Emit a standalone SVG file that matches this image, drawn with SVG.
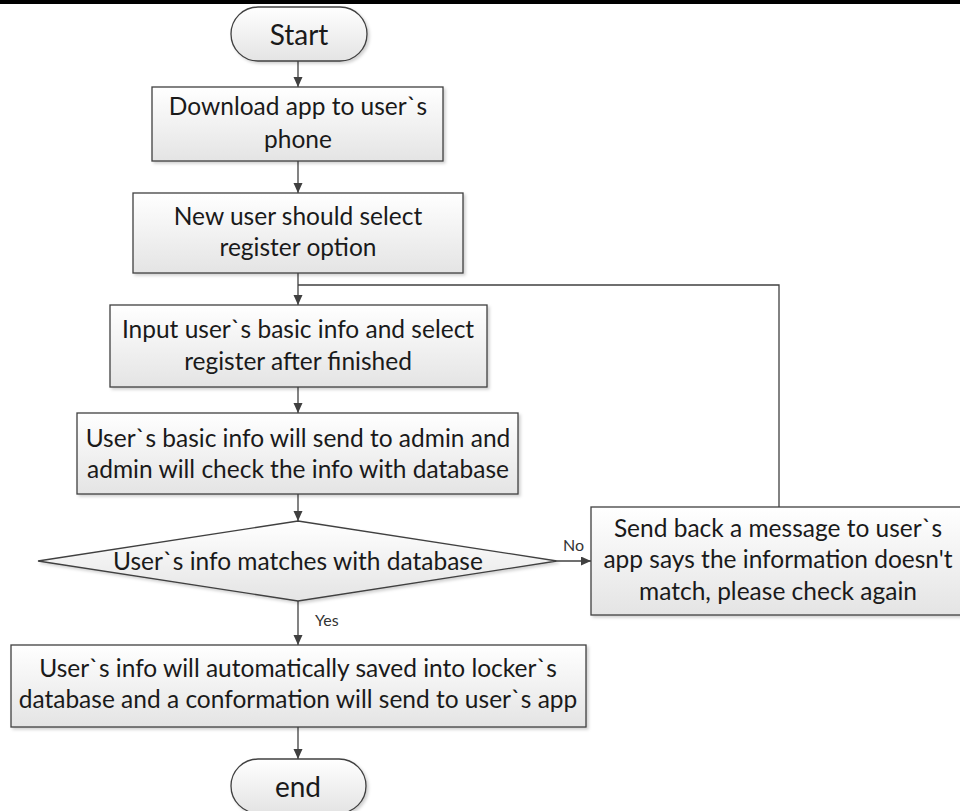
<svg xmlns="http://www.w3.org/2000/svg" width="960" height="811" viewBox="0 0 960 811">
<defs>
<linearGradient id="g" x1="0" y1="0" x2="0" y2="1">
<stop offset="0" stop-color="#ffffff"/>
<stop offset="1" stop-color="#e4e4e4"/>
</linearGradient>
<filter id="sh" x="-5%" y="-5%" width="115%" height="125%">
<feDropShadow dx="2" dy="2" stdDeviation="1.5" flood-color="#000" flood-opacity="0.18"/>
</filter>
<marker id="ah" markerUnits="userSpaceOnUse" markerWidth="12" markerHeight="10" refX="10" refY="4.5" orient="auto">
<path d="M0,0 L10,4.5 L0,9 z" fill="#404040"/>
</marker>
</defs>
<style>
.n{fill:url(#g);stroke:#404040;stroke-width:1.3;filter:url(#sh)}
.t{font-family:Lato,"Liberation Sans",sans-serif;font-size:24.5px;fill:#1a1a1a;text-anchor:middle}
.tt{font-family:Lato,"Liberation Sans",sans-serif;font-size:28px;fill:#1a1a1a;text-anchor:middle}
.s{font-family:Lato,"Liberation Sans",sans-serif;font-size:16px;fill:#333}
.c{fill:none;stroke:#404040;stroke-width:1.3}
</style>
<rect x="0" y="0" width="960" height="811" fill="#fff"/>
<rect x="0" y="0" width="960" height="4" fill="#000"/>
<g id="connectors">
<line class="c" x1="298" y1="61" x2="298" y2="87" marker-end="url(#ah)"/>
<line class="c" x1="298" y1="161" x2="298" y2="193" marker-end="url(#ah)"/>
<line class="c" x1="298" y1="273" x2="298" y2="305" marker-end="url(#ah)"/>
<line class="c" x1="298" y1="387" x2="298" y2="413" marker-end="url(#ah)"/>
<line class="c" x1="298" y1="494" x2="298" y2="521" marker-end="url(#ah)"/>
<line class="c" x1="298" y1="601" x2="298" y2="645" marker-end="url(#ah)"/>
<line class="c" x1="298" y1="727" x2="298" y2="759" marker-end="url(#ah)"/>
<line class="c" x1="557" y1="561" x2="591" y2="561" marker-end="url(#ah)"/>
<polyline class="c" points="779,507 779,285 298,285"/>
<text class="s" x="563" y="551">No</text>
<text class="s" x="315" y="626">Yes</text>
</g>
<g id="start">
<rect class="n" x="231" y="7" width="136" height="54" rx="27" ry="27"/>
<text class="tt" x="299" y="45">Start</text>
</g>
<g id="download">
<rect class="n" x="152" y="87" width="291" height="74"/>
<text class="t" x="298" y="115">Download app to user`s</text>
<text class="t" x="298" y="148">phone</text>
</g>
<g id="select-register">
<rect class="n" x="133" y="193" width="330" height="80"/>
<text class="t" x="298" y="225">New user should select</text>
<text class="t" x="298" y="256">register option</text>
</g>
<g id="input-info">
<rect class="n" x="110" y="305" width="377" height="82"/>
<text class="t" x="298" y="338">Input user`s basic info and select</text>
<text class="t" x="298" y="370">register after finished</text>
</g>
<g id="send-admin">
<rect class="n" x="77" y="413" width="441" height="81"/>
<text class="t" x="298" y="447">User`s basic info will send to admin and</text>
<text class="t" x="298" y="478">admin will check the info with database</text>
</g>
<g id="decision">
<polygon class="n" points="298,521 557,561 298,601 38,561"/>
<text class="t" x="298" y="570">User`s info matches with database</text>
</g>
<g id="send-back">
<rect class="n" x="591" y="507" width="375" height="108"/>
<text class="t" x="778" y="537">Send back a message to user`s</text>
<text class="t" x="778" y="568">app says the information doesn't</text>
<text class="t" x="778" y="600">match, please check again</text>
</g>
<g id="saved">
<rect class="n" x="11" y="645" width="575" height="82"/>
<text class="t" x="298" y="677">User`s info will automatically saved into locker`s</text>
<text class="t" x="298" y="708">database and a conformation will send to user`s app</text>
</g>
<g id="end">
<rect class="n" x="231" y="759" width="135" height="54" rx="27" ry="27"/>
<text class="tt" x="298" y="797">end</text>
</g>
</svg>
